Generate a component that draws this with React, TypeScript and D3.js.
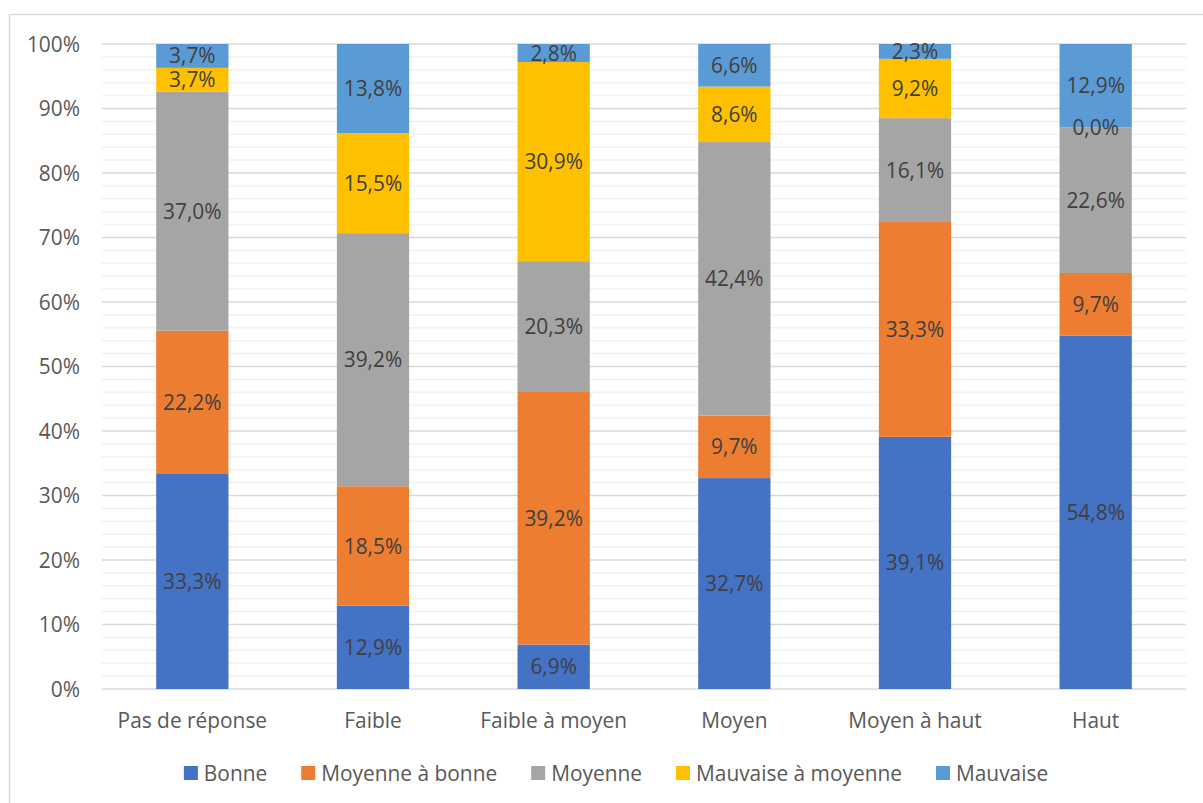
import React from "react";
import * as d3 from "d3";

const categories = ["Pas de réponse", "Faible", "Faible à moyen", "Moyen", "Moyen à haut", "Haut"];
const seriesNames = ["Bonne", "Moyenne à bonne", "Moyenne", "Mauvaise à moyenne", "Mauvaise"];
const bonne = [33.3, 12.9, 6.9, 32.7, 39.1, 54.8];
const moyenneABonne = [22.2, 18.5, 39.2, 9.7, 33.3, 9.7];
const moyenne = [37.0, 39.2, 20.3, 42.4, 16.1, 22.6];
const mauvaiseAMoyenne = [3.7, 15.5, 30.9, 8.6, 9.2, 0.0];
const mauvaise = [3.7, 13.8, 2.8, 6.6, 2.3, 12.9];
const yTicks = [0, 10, 20, 30, 40, 50, 60, 70, 80, 90, 100];
const colors = ["#4472C4", "#ED7D31", "#A5A5A5", "#FFC000", "#5B9BD5"];

const FONT = "'Open Sans', 'Noto Sans', sans-serif";

export default function App() {
  const W = 1203, H = 803;
  const left = 102, right = 1186, top = 44, bottom = 689;
  const series = [bonne, moyenneABonne, moyenne, mauvaiseAMoyenne, mauvaise];

  const x = d3.scaleBand<string>().domain(categories).range([left, right]).paddingInner(0.6).paddingOuter(0.3);
  const y = d3.scaleLinear().domain([0, 1]).range([bottom, top]);

  const rows = categories.map((c, i) => {
    const r: any = { cat: c };
    seriesNames.forEach((s, k) => (r[s] = series[k][i]));
    return r;
  });
  const stacked = d3.stack<any>().keys(seriesNames).offset(d3.stackOffsetExpand)(rows);

  const minor = d3.range(0, 101, 2).filter((v) => v % 10 !== 0);

  // calibrate font size so text width matches the reference's
  const ctx = typeof document !== "undefined" ? document.createElement("canvas").getContext("2d") : null;
  let fs = 19;
  if (ctx) {
    ctx.font = `20px ${FONT}`;
    const w = ctx.measureText("Moyenne à bonne").width;
    if (w > 0) fs = Math.max(16, Math.min(22, (20 * 176) / w));
    ctx.font = `${fs}px ${FONT}`;
  }
  const tw = (t: string) => (ctx ? ctx.measureText(t).width : t.length * 10);
  const sq = 14, sqGap = 6, itemGap = 34;
  const widths = seriesNames.map((s) => sq + sqGap + tw(s));
  const total = d3.sum(widths) + itemGap * (seriesNames.length - 1);
  let lx = 616 - total / 2;
  const legendX = widths.map((w) => {
    const v = lx;
    lx += w + itemGap;
    return v;
  });

  return (
    <svg width={W} height={H} style={{ position: "absolute", left: 0, top: 0, fontFamily: FONT }}>
      <rect x={0} y={0} width={W} height={H} fill="#fff" />
      <rect x={9.5} y={14.5} width={1210} height={800} fill="none" stroke="#d9d9d9" strokeWidth={1.5} />
      {minor.map((v) => (
        <line key={"m" + v} x1={left} x2={right} y1={y(v / 100)} y2={y(v / 100)} stroke="#f2f2f2" strokeWidth={1.5} />
      ))}
      {yTicks.map((v) => (
        <line key={"g" + v} x1={left} x2={right} y1={y(v / 100)} y2={y(v / 100)} stroke="#d9d9d9" strokeWidth={1.5} />
      ))}
      {yTicks.map((v) => (
        <text key={"t" + v} x={80} y={y(v / 100)} dy="0.36em" textAnchor="end" fontSize={fs} fill="#595959">
          {v}%
        </text>
      ))}
      {stacked.map((layer, k) => (
        <g key={layer.key}>
          {layer.map((d, i) => (
            <rect
              key={i}
              x={x(categories[i])}
              width={x.bandwidth()}
              y={y(d[1])}
              height={Math.max(0, y(d[0]) - y(d[1]))}
              fill={colors[k]}
            />
          ))}
        </g>
      ))}
      {stacked.map((layer, k) => (
        <g key={"l" + layer.key}>
          {layer.map((d, i) => (
            <text
              key={i}
              x={(x(categories[i]) as number) + x.bandwidth() / 2}
              y={(y(d[0]) + y(d[1])) / 2}
              dy="0.36em"
              textAnchor="middle"
              fontSize={fs}
              fill="#404040"
            >
              {series[k][i].toFixed(1).replace(".", ",")}%
            </text>
          ))}
        </g>
      ))}
      {categories.map((c) => (
        <text key={c} x={(x(c) as number) + x.bandwidth() / 2} y={720} dy="0.36em" textAnchor="middle" fontSize={fs} fill="#595959">
          {c}
        </text>
      ))}
      {seriesNames.map((s, k) => (
        <g key={"lg" + s} transform={`translate(${legendX[k]},773)`}>
          <rect x={0} y={-7} width={sq} height={sq} fill={colors[k]} />
          <text x={sq + sqGap} y={0} dy="0.36em" fontSize={fs} fill="#595959">
            {s}
          </text>
        </g>
      ))}
    </svg>
  );
}
